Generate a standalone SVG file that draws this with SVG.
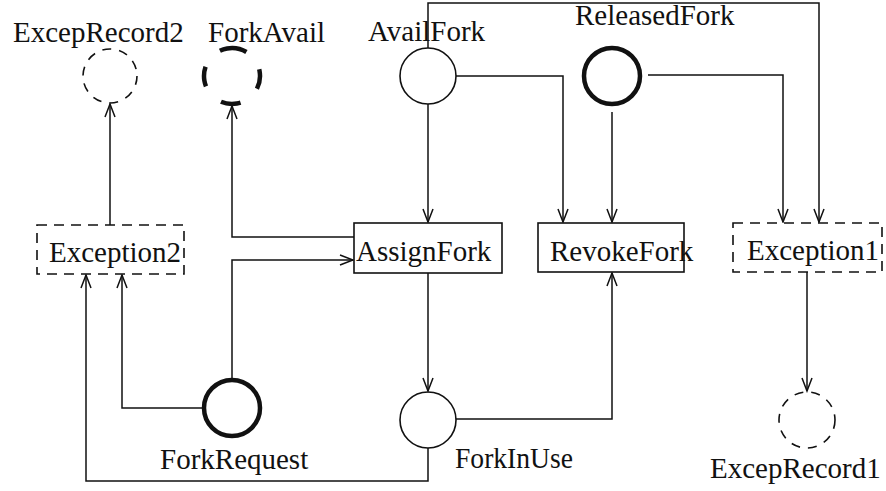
<svg xmlns="http://www.w3.org/2000/svg" width="886" height="491" viewBox="0 0 886 491">
  <style>
    text { font-family: "Liberation Serif", "Times New Roman", serif; font-size: 29px; fill: #111; }
    .place { fill: none; stroke: #111; stroke-width: 1.6; }
    .marked { fill: none; stroke: #111; stroke-width: 4.5; }
    .exrec { fill: none; stroke: #111; stroke-width: 1.6; stroke-dasharray: 9 8; }
    .exavail { fill: none; stroke: #111; stroke-width: 4.5; stroke-dasharray: 20 22; }
    .trans { fill: #fff; stroke: #111; stroke-width: 1.6; }
    .extrans { fill: #fff; stroke: #111; stroke-width: 1.6; stroke-dasharray: 10 7; }
    .arc { fill: none; stroke: #111; stroke-width: 1.5; marker-end: url(#arrow); }
  </style>
  <defs>
    <marker id="arrow" markerUnits="userSpaceOnUse" markerWidth="16" markerHeight="14" viewBox="-14 -7 16 14" refX="0" refY="0" orient="auto">
      <path d="M-13,-5 L0,0 L-13,5" fill="none" stroke="#111" stroke-width="1.5"/>
    </marker>
  </defs>

  <!-- connectors -->
  <g id="connectors">
    <path class="arc" d="M110,225 V104"/>
    <path class="arc" d="M354,237 H232 V106"/>
    <path class="arc" d="M232,378 V260 H353"/>
    <path class="arc" d="M203,408 H122 V275"/>
    <path class="arc" d="M428,448 V481 H86 V275"/>
    <path class="arc" d="M428,104 V222"/>
    <path class="arc" d="M456,76 H563 V222"/>
    <path class="arc" d="M428,48 V3 H819 V222"/>
    <path class="arc" d="M612,112 V222"/>
    <path class="arc" d="M648,75 H783 V222"/>
    <path class="arc" d="M428,273 V391"/>
    <path class="arc" d="M456,419 H612 V273"/>
    <path class="arc" d="M807,272 V391"/>
  </g>

  <!-- places -->
  <g id="ExcepRecord2">
    <circle class="exrec" cx="110" cy="76" r="27"/>
    <text x="13" y="42">ExcepRecord2</text>
  </g>
  <g id="ForkAvail">
    <circle class="exavail" cx="232" cy="76" r="28" transform="rotate(-100 232 76)"/>
    <text x="208" y="42">ForkAvail</text>
  </g>
  <g id="AvailFork">
    <circle class="place" cx="428" cy="76" r="28"/>
    <text x="368" y="41">AvailFork</text>
  </g>
  <g id="ReleasedFork">
    <circle class="marked" cx="612" cy="76" r="28"/>
    <text x="575" y="25">ReleasedFork</text>
  </g>
  <g id="ForkRequest">
    <circle class="marked" cx="232" cy="408" r="28"/>
    <text x="160" y="469">ForkRequest</text>
  </g>
  <g id="ForkInUse">
    <circle class="place" cx="428" cy="420" r="28"/>
    <text x="455" y="468" textLength="118" lengthAdjust="spacingAndGlyphs">ForkInUse</text>
  </g>
  <g id="ExcepRecord1">
    <circle class="exrec" cx="807" cy="420" r="28"/>
    <text x="710" y="478">ExcepRecord1</text>
  </g>

  <!-- transitions -->
  <g id="Exception2">
    <rect class="extrans" x="37" y="225" width="147" height="49"/>
    <text x="49" y="262">Exception2</text>
  </g>
  <g id="AssignFork">
    <rect class="trans" x="354" y="223" width="148" height="50"/>
    <text x="356" y="261">AssignFork</text>
  </g>
  <g id="RevokeFork">
    <rect class="trans" x="538" y="223" width="146" height="49"/>
    <text x="550" y="261">RevokeFork</text>
  </g>
  <g id="Exception1">
    <rect class="extrans" x="733" y="223" width="149" height="49"/>
    <text x="747" y="260">Exception1</text>
  </g>
</svg>
